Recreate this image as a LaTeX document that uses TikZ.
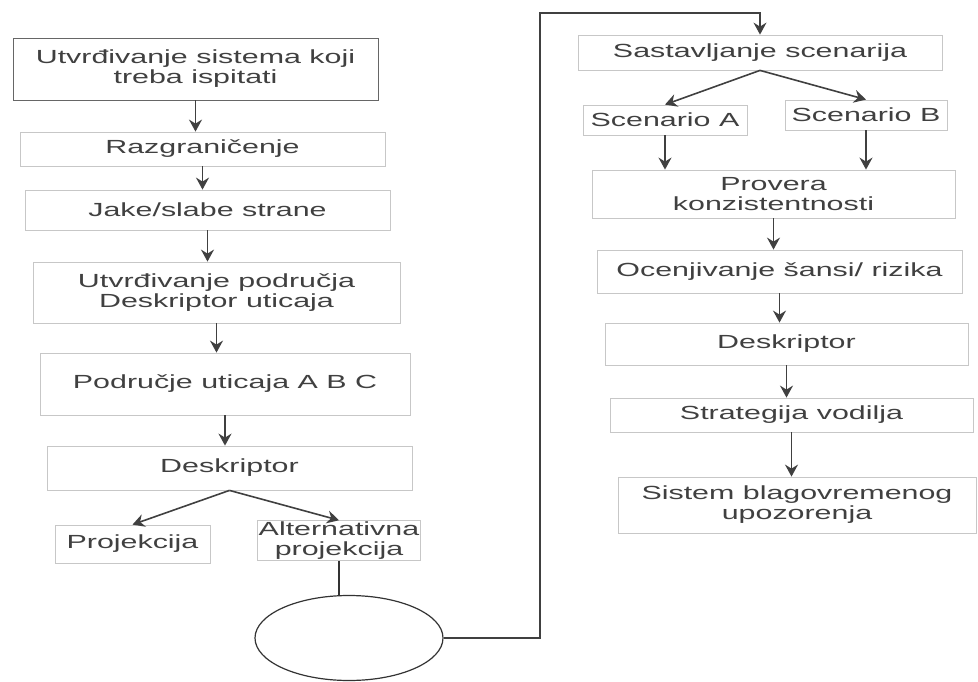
\documentclass[tikz,border=0pt]{standalone}
\usepackage{fontspec}
\setmainfont{Liberation Sans}[FakeStretch=1.6]
\usetikzlibrary{arrows.meta,shapes.geometric}

\begin{document}
\begin{tikzpicture}[x=1pt, y=-1pt,
    blok/.style={draw=black!22, line width=0.8pt, text=black!75, font=\fontsize{19}{20}\selectfont,
        align=center, minimum width=365pt, inner sep=1pt},
    strel/.style={-{Stealth[length=12pt,width=13pt,inset=4pt]}, line width=1.6pt, draw=black!75}]
    \useasboundingbox (0,0) rectangle (978,682);
    % Left column
    \node[blok, draw=black!60, minimum height=62pt] (n1) at (195.5,69) {Utvrđivanje sistema koji\\treba ispitati};
    \node[blok, minimum height=34pt] (n2) at (202.5,149) {Razgraničenje};
    \node[blok, minimum height=40pt] (n3) at (207.5,210) {Jake/slabe strane};
    \node[blok, minimum width=367pt, minimum height=61pt] (n4) at (216.5,292.5) {Utvrđivanje područja\\Deskriptor uticaja};
    \node[blok, minimum width=370pt, minimum height=62pt] (n5) at (225,384) {Područje uticaja A B C};
    \node[blok, minimum height=44pt] (n6) at (229.5,468) {Deskriptor};
    \node[blok, minimum width=155pt, minimum height=38pt] (n7) at (132.5,544) {Projekcija};
    \node[blok, minimum width=162pt, minimum height=37pt] (n8) at (339,540.5) {Alternativna\\projekcija};
    % Circle
    \node[ellipse, draw=black!80, line width=1.2pt, minimum width=188pt, minimum height=85pt] (krug) at (349,638) {};
    % Right column
    \node[blok, minimum width=364pt, minimum height=35pt] (r1) at (760,52.5) {Sastavljanje scenarija};
    \node[blok, minimum width=164pt, minimum height=30pt] (rA) at (665,120) {Scenario A};
    \node[blok, minimum width=162pt, minimum height=30pt] (rB) at (866,115) {Scenario B};
    \node[blok, minimum width=363pt, minimum height=48pt] (r2) at (773.5,194) {Provera\\konzistentnosti};
    \node[blok, minimum height=43pt] (r3) at (779.5,271.5) {Ocenjivanje šansi/ rizika};
    \node[blok, minimum width=363pt, minimum height=42pt] (r4) at (786.5,344) {Deskriptor};
    \node[blok, minimum width=363pt, minimum height=34pt] (r5) at (791.5,415) {Strategija vodilja};
    \node[blok, minimum width=358pt, minimum height=56pt] (r6) at (797,505) {Sistem blagovremenog\\upozorenja};
    % Arrows
    \foreach \a/\b in {n1/n2, n2/n3, n3/n4, n4/n5, n5/n6, rA/r2, rB/r2, r2/r3, r3/r4, r4/r5, r5/r6}
        \draw[strel] (\a.south) -- (\a.south |- \b.north);
    \draw[strel] (n6.south) -- (n7.north);
    \draw[strel] (n6.south) -- (n8.north);
    \draw[strel] (r1.south) -- (rA.north);
    \draw[strel] (r1.south) -- (rB.north);
    % Loop back to the top
    \draw[line width=1.2pt, draw=black!80] (n8.south) -- (n8.south |- krug.north);
    \coordinate (vrh) at (540,13);
    \draw[strel, line width=1.2pt] (krug.east) -| (vrh) -| (r1.north);
\end{tikzpicture}
\end{document}
